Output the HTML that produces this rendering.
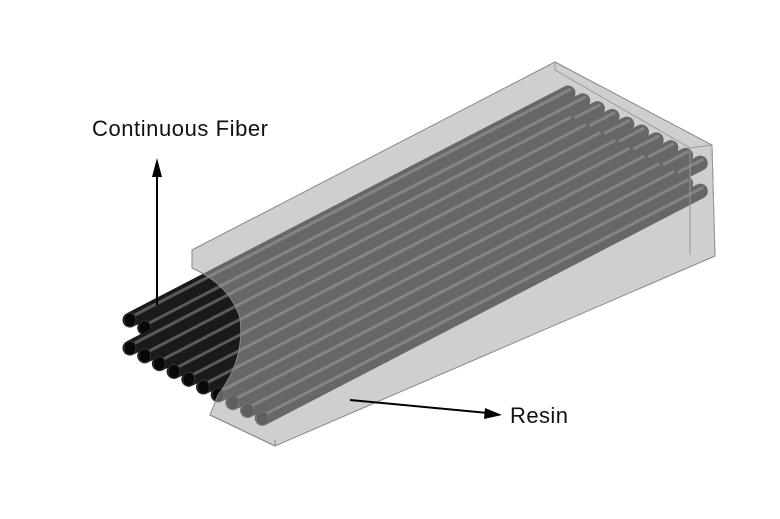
<!DOCTYPE html>
<html><head><style>body{margin:0;background:#fff}svg{display:block}</style></head>
<body>
<svg width="780" height="519" viewBox="0 0 780 519" xmlns="http://www.w3.org/2000/svg">
<rect width="780" height="519" fill="#fff"/>
<g id="rods"></g>
<script>
(function(){
 var g=document.getElementById('rods'),ns='http://www.w3.org/2000/svg';
 function el(n,a){var e=document.createElementNS(ns,n);for(var k in a)e.setAttribute(k,a[k]);g.appendChild(e);}
 var dx=438,dy=-227;
 [[130,320],[130,348]].forEach(function(s){
  for(var i=0;i<10;i++){
   var x=s[0]+i*14.7,y=s[1]+i*7.8;
   el('line',{x1:x,y1:y,x2:x+dx,y2:y+dy,stroke:'#1a1a1a','stroke-width':15,'stroke-linecap':'round'});
   el('line',{x1:x+3,y1:y-4,x2:x+dx+3,y2:y+dy-4,stroke:'#5a5a5a','stroke-width':3});
   el('ellipse',{cx:x,cy:y,rx:6,ry:7,fill:'#080808',stroke:'#333','stroke-width':1});
  }
 });
})();
</script>
<path d="M192,250 L555,62 L712,145 L715,256 L275,446 L210,415 L218,395 Q245,360 240,318 Q230,285 192,268 Z" fill="#a8a8a8" fill-opacity="0.55" stroke="#888" stroke-width="1"/>
<path d="M555,62 L555,70 L690,148 L712,145 M690,148 L690,255 M712,145 L715,256" fill="none" stroke="#999" stroke-width="1"/>
<path d="M210,415 L275,446 L275,440" fill="none" stroke="#888"/>
<line x1="157" y1="305" x2="157" y2="172" stroke="#000" stroke-width="2"/>
<polygon points="157,158 152,177 162,177" fill="#000"/>
<line x1="350" y1="400" x2="488" y2="413" stroke="#000" stroke-width="2"/>
<polygon points="502,415 485,408 484,419" fill="#000"/>
<text x="92" y="136" font-family="Liberation Sans, sans-serif" font-size="22" fill="#111" textLength="176">Continuous Fiber</text>
<text x="510" y="423" font-family="Liberation Sans, sans-serif" font-size="22" fill="#111" textLength="58">Resin</text>
</svg>
</body></html>
